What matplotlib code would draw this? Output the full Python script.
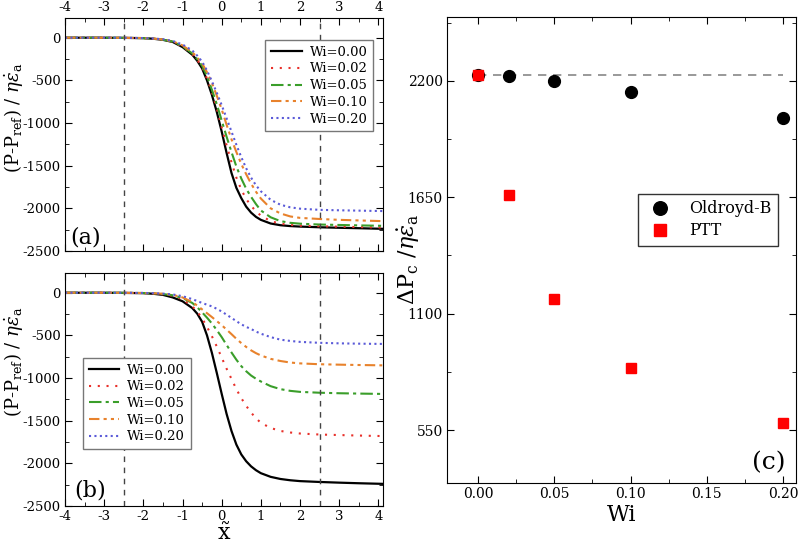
import numpy as np
import matplotlib
matplotlib.use('Agg')
import matplotlib.pyplot as plt
from matplotlib.ticker import MultipleLocator, FormatStrFormatter

plt.rcParams['font.family'] = ['DejaVu Serif']
plt.rcParams['mathtext.fontset'] = 'dejavuserif'
plt.rcParams['axes.unicode_minus'] = False

# x positions where the curves were read
x = [-4, -3, -2.5, -2, -1.75, -1.5, -1.25, -1, -0.75, -0.625, -0.5, -0.375,
     -0.25, -0.125, 0, 0.125, 0.25, 0.375, 0.5, 0.625, 0.75, 0.875, 1,
     1.25, 1.5, 1.75, 2, 2.5, 3, 3.5, 4.1]

wi_labels = ['Wi=0.00', 'Wi=0.02', 'Wi=0.05', 'Wi=0.10', 'Wi=0.20']

# panel (a): Oldroyd-B
a_wi000 = [0, 0, -2, -5, -12, -25, -50, -110, -200, -270, -360, -500,
           -670, -870, -1100, -1350, -1585, -1760, -1880, -1980, -2050, -2100, -2135,
           -2178, -2198, -2208, -2214, -2222, -2228, -2233, -2240]
a_wi002 = [0, 0, -2, -5, -12, -24, -48, -105, -193, -260, -345, -480,
           -635, -830, -1050, -1260, -1460, -1640, -1780, -1890, -1970, -2035, -2085,
           -2150, -2180, -2195, -2203, -2210, -2215, -2220, -2225]
a_wi005 = [0, 0, -2, -5, -11, -23, -46, -100, -185, -250, -330, -450,
           -610, -780, -970, -1160, -1340, -1510, -1650, -1770, -1865, -1950, -2025,
           -2105, -2150, -2170, -2180, -2190, -2195, -2200, -2205]
a_wi010 = [0, 0, -2, -4, -10, -21, -42, -90, -170, -230, -300, -405,
           -530, -680, -840, -1020, -1190, -1340, -1480, -1600, -1710, -1805, -1885,
           -2000, -2060, -2095, -2112, -2125, -2135, -2142, -2150]
a_wi020 = [0, 0, -1, -4, -9, -18, -38, -80, -150, -210, -280, -385,
           -510, -645, -790, -945, -1100, -1255, -1400, -1530, -1640, -1730, -1800,
           -1900, -1958, -1988, -2004, -2018, -2023, -2027, -2032]

# panel (b): PTT
b_wi000 = [0, 0, -2, -5, -12, -25, -55, -100, -180, -245, -340, -500,
           -705, -940, -1185, -1420, -1620, -1780, -1895, -1975, -2035, -2080, -2115,
           -2158, -2183, -2198, -2208, -2218, -2226, -2233, -2240]
b_wi002 = [0, 0, -2, -4, -9, -18, -36, -75, -160, -220, -300, -400,
           -510, -630, -760, -890, -1010, -1130, -1235, -1325, -1405, -1470, -1525,
           -1585, -1620, -1638, -1650, -1662, -1668, -1674, -1680]
b_wi005 = [0, 0, -1, -3, -7, -15, -30, -62, -120, -170, -230, -292,
           -360, -438, -520, -612, -700, -785, -860, -920, -970, -1008, -1040,
           -1095, -1130, -1150, -1162, -1172, -1178, -1182, -1186]
b_wi010 = [0, 0, -1, -3, -6, -12, -25, -55, -110, -150, -195, -240,
           -285, -332, -380, -432, -485, -540, -590, -635, -675, -708, -735,
           -775, -800, -818, -828, -838, -843, -847, -851]
b_wi020 = [0, 0, -1, -2, -5, -10, -20, -40, -75, -97, -120, -140,
           -160, -188, -220, -257, -295, -333, -370, -400, -425, -455, -480,
           -520, -550, -565, -576, -587, -593, -597, -600]

# panel (c)
wi = [0.0, 0.02, 0.05, 0.10, 0.20]
dp_oldroyd = [2228, 2224, 2200, 2145, 2022]
dp_ptt = [2228, 1658, 1171, 841, 585]
ref_level = 2228

colors = ['black', '#e8302a', '#3a9e2a', '#e8822c', '#5a5ad8']
dashes = [None, (1, 3.2), (6, 2, 1.5, 2), (5, 2, 1.5, 2, 1.5, 2), (1, 1.6)]


def style_ax(ax, size=10):
    ax.tick_params(which='both', direction='in', top=True, right=True,
                   labelsize=size, pad=3)
    ax.tick_params(which='major', length=5)
    ax.tick_params(which='minor', length=3)


def draw_curves(ax, curves):
    for ys, lab, col, d in zip(curves, wi_labels, colors, dashes):
        line, = ax.plot(x, ys, color=col, linewidth=1.6 if d is None else 1.5,
                        label=lab)
        if d is not None:
            line.set_dashes(d)
    for xv in [-2.5, 2.5]:
        ax.axvline(xv, color='#444444', linestyle=(0, (4, 4)), linewidth=1)
    ax.set_xlim(-4, 4.12)
    ax.set_ylim(-2500, 230)
    ax.xaxis.set_major_locator(MultipleLocator(1))
    ax.xaxis.set_minor_locator(MultipleLocator(0.5))
    ax.yaxis.set_major_locator(MultipleLocator(500))
    ax.yaxis.set_minor_locator(MultipleLocator(250))
    ax.set_ylabel(r'(P-P$_{\mathrm{ref}}$) / $\eta\dot{\varepsilon}_{\mathrm{a}}$',
                  fontsize=13)
    style_ax(ax, 9.5)


def add_legend(ax, anchor, loc):
    ax.legend(loc=loc, fontsize=9.5, fancybox=False,
              edgecolor='#777777', framealpha=1, handlelength=2.3,
              borderpad=0.45, labelspacing=0.28, handletextpad=0.6,
              bbox_to_anchor=anchor)


fig = plt.figure(figsize=(7.98, 5.48), dpi=100)

ax1 = fig.add_axes([0.0815, 0.542, 0.3985, 0.425])
draw_curves(ax1, [a_wi000, a_wi002, a_wi005, a_wi010, a_wi020])
ax1.tick_params(labelbottom=False, labeltop=True)
ax1.yaxis.set_label_coords(-0.125, 0.57)
add_legend(ax1, (0.99, 0.935), 'upper right')
ax1.text(0.015, 0.03, '(a)', transform=ax1.transAxes, fontsize=16)

ax2 = fig.add_axes([0.0815, 0.0766, 0.3985, 0.425])
draw_curves(ax2, [b_wi000, b_wi002, b_wi005, b_wi010, b_wi020])
ax2.yaxis.set_label_coords(-0.125, 0.62)
ax2.set_xlabel(r'$\tilde{\mathrm{x}}$', fontsize=16, labelpad=0)
add_legend(ax2, (0.035, 0.44), 'center left')
ax2.text(0.03, 0.04, '(b)', transform=ax2.transAxes, fontsize=16)

ax3 = fig.add_axes([0.560, 0.1186, 0.4375, 0.850])
ax3.plot([wi[0], wi[-1]], [ref_level, ref_level], color='#888888',
         linestyle=(0, (5, 4)), linewidth=1.2, zorder=1)
ax3.plot(wi, dp_oldroyd, 'o', color='black', markersize=8.5,
         label='Oldroyd-B', zorder=2)
ax3.plot(wi, dp_ptt, 's', color='#ff0000', markersize=7.5,
         label='PTT', zorder=3)
ax3.set_xlim(-0.0205, 0.2085)
ax3.set_ylim(300, 2500)
ax3.xaxis.set_major_locator(MultipleLocator(0.05))
ax3.xaxis.set_minor_locator(MultipleLocator(0.025))
ax3.set_yticks([550, 1100, 1650, 2200])
ax3.yaxis.set_minor_locator(MultipleLocator(275))
ax3.xaxis.set_major_formatter(FormatStrFormatter('%.2f'))
style_ax(ax3)
ax3.set_xlabel('Wi', fontsize=16, labelpad=2)
ax3.set_ylabel(r'$\Delta$P$_{\mathrm{c}}$ /$\eta\dot{\varepsilon}_{\mathrm{a}}$',
               fontsize=16)
ax3.yaxis.set_label_coords(-0.07, 0.48)
ax3.legend(loc='center right', fontsize=11.5, fancybox=False,
           edgecolor='#333333', framealpha=1, markerscale=1.15,
           handletextpad=0.8, borderpad=0.4, labelspacing=0.3,
           bbox_to_anchor=(0.97, 0.565))
ax3.text(0.97, 0.03, '(c)', transform=ax3.transAxes, fontsize=18, ha='right')

fig.savefig('out.png', dpi=100)
